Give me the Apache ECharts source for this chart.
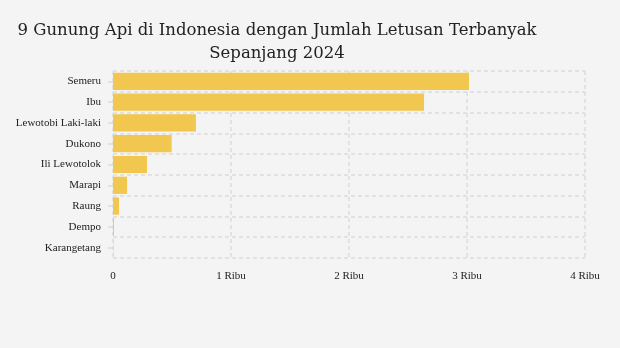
<!DOCTYPE html>
<html>
<head>
<meta charset="utf-8">
<style>
  html, body { margin: 0; padding: 0; background: #f4f4f4; }
  #chart { width: 620px; height: 348px; }
</style>
<script src="https://cdn.jsdelivr.net/npm/echarts@6/dist/echarts.min.js"></script>
</head>
<body>
<div id="chart"></div>
<script>
// Volcanoes and their eruption counts during 2024
const volcanoes = ['Semeru', 'Ibu', 'Lewotobi Laki-laki', 'Dukono', 'Ili Lewotolok', 'Marapi', 'Raung', 'Dempo', 'Karangetang'];
const eruptions = [3017, 2636, 703, 497, 288, 119, 51, 8, 2];
const axisTicks = [0, 1000, 2000, 3000, 4000];

const chart = echarts.init(document.getElementById('chart'), null, { renderer: 'canvas' });

const gridLine = { show: true, lineStyle: { color: '#dcdcdc', type: [4, 3], width: 1.5 } };

chart.setOption({
  backgroundColor: '#f4f4f4',
  animation: false,
  title: {
    text: '9 Gunung Api di Indonesia dengan Jumlah Letusan Terbanyak\nSepanjang 2024',
    left: 272,
    top: 14,
    textAlign: 'center',
    textStyle: {
      fontFamily: 'DejaVu Serif',
      fontWeight: 'normal',
      fontSize: 16.5,
      lineHeight: 23,
      color: '#222'
    }
  },
  grid: { left: 113, right: 35, top: 71, bottom: 90, containLabel: false },
  xAxis: {
    type: 'value',
    min: axisTicks[0],
    max: axisTicks[axisTicks.length - 1],
    interval: 1000,
    axisLine: { show: false },
    axisTick: { show: false },
    splitLine: gridLine,
    axisLabel: {
      margin: 13,
      fontFamily: 'Liberation Serif',
      fontSize: 11,
      color: '#222',
      formatter: v => v === 0 ? '0' : (v / 1000) + ' Ribu'
    }
  },
  yAxis: {
    type: 'category',
    data: volcanoes,
    inverse: true,
    axisLine: { show: false },
    axisTick: { show: true, length: 5, lineStyle: { color: '#dcdcdc', width: 1.5 }, alignWithLabel: true },
    splitLine: gridLine,
    axisLabel: {
      margin: 12,
      fontFamily: 'Liberation Serif',
      fontSize: 11,
      color: '#222'
    }
  },
  series: [{
    type: 'bar',
    data: eruptions,
    barCategoryGap: '17%',
    itemStyle: { color: '#f1c74f' }
  }]
});
</script>
</body>
</html>
